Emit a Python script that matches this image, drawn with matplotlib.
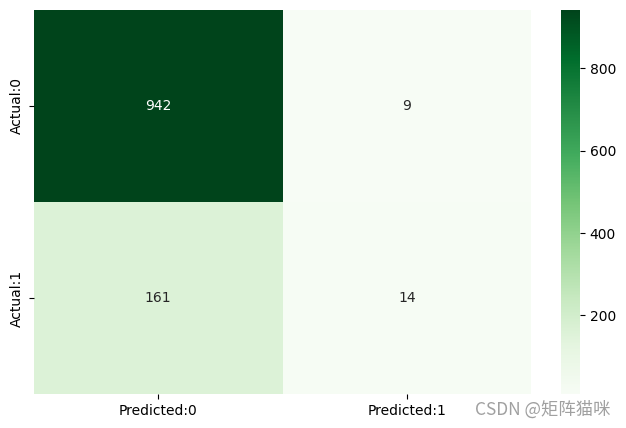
import numpy as np
import pandas as pd
import matplotlib
matplotlib.use("Agg")
import matplotlib.pyplot as plt
import seaborn as sns

row_labels = ["Actual:0", "Actual:1"]
col_labels = ["Predicted:0", "Predicted:1"]
counts = [[942, 9],
          [161, 14]]

cm_df = pd.DataFrame(counts, index=row_labels, columns=col_labels)

fig = plt.figure(figsize=(6.26, 4.28), dpi=100)
ax = fig.add_axes([34/626, 1 - 394/428, (531 - 34)/626, 384/428])
cax = fig.add_axes([561/626, 1 - 394/428, 19/626, 384/428])

sns.heatmap(cm_df, annot=True, fmt="d", cmap="Greens", ax=ax, cbar_ax=cax)
cax.tick_params(labelsize=10)

# watermark
fig.text(0.975, 0.022, "CSDN @矩阵猫咪", ha="right", va="bottom",
         color="#a0a0a0", fontsize=12.5, family=["Noto Sans CJK SC", "DejaVu Sans"])

fig.savefig("out.png", dpi=100)
